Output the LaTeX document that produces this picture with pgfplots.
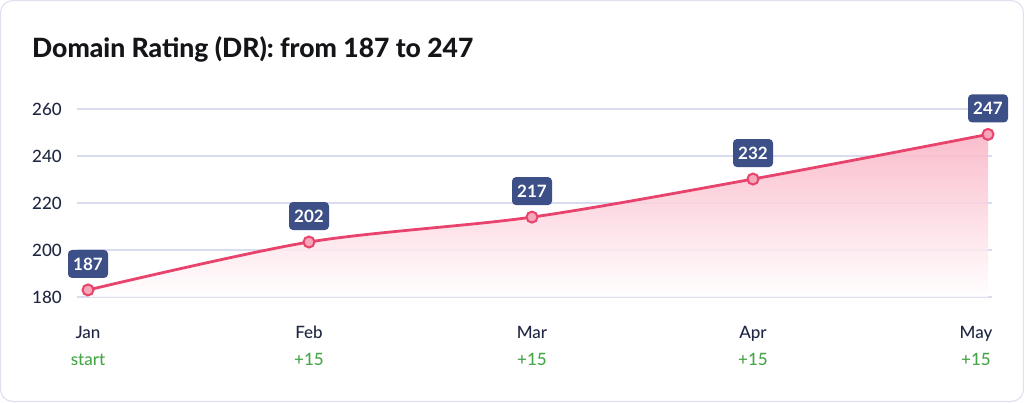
\documentclass[border=0pt]{standalone}
\usepackage{pgfplots}
\usepackage{pgfplotstable}
\pgfplotsset{compat=1.18}
\usepackage{fontspec}
\setmainfont{Lato}
\newfontfamily\medfont{Lato Medium}
\newfontfamily\heavyfont{Lato Heavy}
\definecolor{titlecol}{HTML}{141518}
\definecolor{tickcol}{HTML}{1F2742}
\definecolor{upgreen}{HTML}{46A547}
\definecolor{linecol}{HTML}{E8436C}
\definecolor{markfill}{HTML}{F7A7BA}
\definecolor{boxcol}{HTML}{3C4F86}
\definecolor{gridcol}{HTML}{D9DCF0}
\definecolor{cardborder}{HTML}{E0E2F2}
\definecolor{filltop}{HTML}{FAB2C4}
\definecolor{fillmid}{HTML}{FCD4DE}

\pgfplotstableread{
x y label
88 183.0 187
309 203.4 202
532 214.0 217
753 230.2 232
988 249.2 247
}\drdata

\begin{document}
\begin{tikzpicture}[x=1pt,y=1pt]
\draw[cardborder, line width=1.2pt, fill=white, rounded corners=12pt] (0.6,0.6) rectangle (1023.4,401.4);
\node[anchor=base west, inner sep=0pt, font=\heavyfont\fontsize{26.5}{30}\selectfont, text=titlecol] at (32,344) {Domain Rating (DR): from 187 to 247};
\begin{axis}[
  at={(77pt,105pt)}, anchor=south west,
  width=915pt, height=188pt, scale only axis,
  xmin=77, xmax=992, ymin=180, ymax=260,
  axis line style={draw=none},
  ytick={180,200,220,240,260},
  xtick={88,309,532,753},
  xticklabels={{Jan\\\textcolor{upgreen}{start}},{Feb\\\textcolor{upgreen}{+15}},{Mar\\\textcolor{upgreen}{+15}},{Apr\\\textcolor{upgreen}{+15}}},
  extra x ticks={988},
  extra x tick labels={{May\\\textcolor{upgreen}{+15}}},
  extra x tick style={xticklabel style={xshift=-12pt}},
  major tick length=0pt,
  ymajorgrids, xmajorgrids=false,
  grid style={gridcol, line width=1.2pt},
  /pgf/number format/assume math mode=true,
  tick label style={font=\medfont\fontsize{17}{27}\selectfont, text=tickcol},
  xticklabel style={align=center, inner sep=0pt, anchor=north, yshift=-29pt},
  yticklabel style={inner sep=0pt, anchor=east, xshift=-15pt},
  clip=false,
]
\addplot[draw=none, smooth, top color=filltop, middle color=fillmid, bottom color=white, fill opacity=0.85, forget plot] table[x=x,y=y]{\drdata} \closedcycle;
\addplot[linecol, line width=2.8pt, smooth, mark=*, mark size=5.5pt,
  mark options={fill=markfill, draw=linecol, line width=2pt},
  nodes near coords, point meta=explicit symbolic,
  every node near coord/.append style={fill=boxcol, text=white, font=\fontsize{17}{17}\selectfont\bfseries, rounded corners=4pt, minimum width=40pt, minimum height=28pt, inner sep=0pt, anchor=center, yshift=26pt}
] table[x=x,y=y,meta=label]{\drdata};
\end{axis}
\end{tikzpicture}
\end{document}
